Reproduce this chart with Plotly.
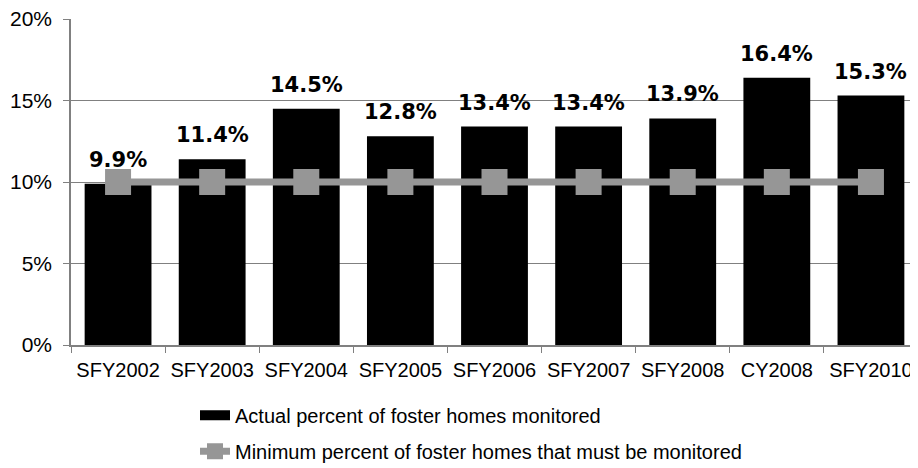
import plotly.graph_objects as go

categories = ["SFY2002", "SFY2003", "SFY2004", "SFY2005", "SFY2006",
              "SFY2007", "SFY2008", "CY2008", "SFY2010"]
actual = [9.9, 11.4, 14.5, 12.8, 13.4, 13.4, 13.9, 16.4, 15.3]
minimum = [10, 10, 10, 10, 10, 10, 10, 10, 10]
y_ticks = [0, 5, 10, 15, 20]
y_tick_labels = ["0%", "5%", "10%", "15%", "20%"]
bar_name = "Actual percent of foster homes monitored"
line_name = "Minimum percent of foster homes that must be monitored"

fig = go.Figure()
fig.add_trace(go.Bar(
    x=categories, y=actual, name=bar_name,
    marker=dict(color="#000000", line=dict(width=0)),
    showlegend=False,
))
# legend entry drawn as a wide black block, like the reference's key
fig.add_trace(go.Scatter(
    x=[None], y=[None], name=bar_name, mode="lines",
    line=dict(color="#000000", width=10),
    legendgroup="a",
))
fig.add_trace(go.Scatter(
    x=categories, y=minimum, name=line_name,
    mode="lines+markers",
    line=dict(color="#969696", width=7),
    marker=dict(symbol="square", size=26, color="#969696"),
    legendgroup="b",
))

for c, v in zip(categories, actual):
    fig.add_annotation(
        x=c, y=v, text=f"{v:.1f}%", showarrow=False,
        yanchor="bottom", yshift=10,
        font=dict(family="DejaVu Sans", size=21, color="#000000", weight="bold"),
    )

fig.update_layout(
    width=910, height=460,
    margin=dict(l=63, r=0, t=11, b=123, autoexpand=False),
    plot_bgcolor="white", paper_bgcolor="white",
    bargap=0.29,
    font=dict(family="Liberation Sans, Arial", size=20, color="#000000"),
    showlegend=True,
    legend=dict(
        x=0.1464, y=-0.156, xanchor="left", yanchor="top",
        traceorder="grouped", tracegroupgap=7,
        font=dict(size=20), bgcolor="rgba(0,0,0,0)",
    ),
)
fig.update_yaxes(
    range=[0, 20], tickvals=y_ticks, ticktext=y_tick_labels,
    showgrid=True, gridcolor="#808080", gridwidth=1,
    showline=True, linecolor="#808080", linewidth=1.5,
    ticks="outside", ticklen=6, tickcolor="#808080",
    zeroline=False, ticklabelstandoff=7, tickfont=dict(size=21),
    automargin=False, ticklabeloverflow="allow",
)
fig.update_xaxes(
    range=[-0.5, len(categories) - 0.5],
    showline=True, linecolor="#808080", linewidth=1.5,
    ticks="outside", ticklen=6, tickcolor="#808080",
    tickson="boundaries", ticklabelstandoff=6, tickangle=0,
    tickfont=dict(size=20), automargin=False, ticklabeloverflow="allow",
)

fig.write_html("out.html")
